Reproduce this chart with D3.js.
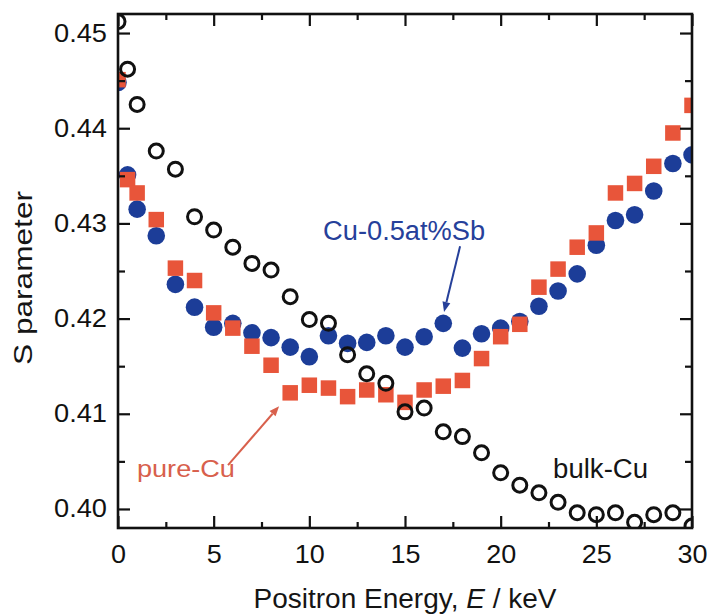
<!DOCTYPE html>
<html>
<head>
<meta charset="utf-8">
<script src="https://cdn.jsdelivr.net/npm/d3@7"></script>
<style>
  html, body { margin: 0; padding: 0; background: #fff; }
  svg { display: block; }
  text { font-family: "Liberation Sans", Arial, Helvetica, sans-serif; }
</style>
</head>
<body>
<svg id="chart" width="707" height="614"></svg>
<script>
// Positron energy (keV) at which each S parameter was measured
const energy = [0, 0.5, 1, 2, 3, 4, 5, 6, 7, 8, 9, 10, 11, 12, 13, 14, 15,
                16, 17, 18, 19, 20, 21, 22, 23, 24, 25, 26, 27, 28, 29, 30];

// S parameter, bulk copper reference (open circles)
const bulkCu = [0.4512, 0.4462, 0.4425, 0.4376, 0.4357, 0.4307, 0.4293, 0.4275,
                0.4258, 0.4251, 0.4223, 0.4199, 0.4195, 0.4162, 0.4142, 0.4132,
                0.4102, 0.4106, 0.4081, 0.4076, 0.4059, 0.4038, 0.4025, 0.4017,
                0.4007, 0.3996, 0.3994, 0.3996, 0.3986, 0.3994, 0.3996, 0.3982];

// S parameter, pure-Cu film (red squares)
const pureCu = [0.4451, 0.4346, 0.4332, 0.4304, 0.4253, 0.4240, 0.4206, 0.4190,
                0.4171, 0.4151, 0.4122, 0.4130, 0.4127, 0.4118, 0.4125, 0.4120,
                0.4112, 0.4125, 0.4129, 0.4135, 0.4158, 0.4181, 0.4194, 0.4233,
                0.4252, 0.4275, 0.4290, 0.4332, 0.4342, 0.4360, 0.4395, 0.4424];

// S parameter, Cu-0.5at%Sb film (blue circles)
const cuSb = [0.4448, 0.4351, 0.4315, 0.4287, 0.4236, 0.4212, 0.4191, 0.4195,
              0.4185, 0.4180, 0.4170, 0.4160, 0.4182, 0.4174, 0.4175, 0.4182,
              0.4170, 0.4181, 0.4195, 0.4169, 0.4184, 0.4190, 0.4197, 0.4213,
              0.4229, 0.4247, 0.4277, 0.4303, 0.4309, 0.4334, 0.4363, 0.4372];

// Axis ticks
const xMajor = [0, 5, 10, 15, 20, 25, 30];
const xMinor = [2.5, 7.5, 12.5, 17.5, 22.5, 27.5];
const yMajor = [0.40, 0.41, 0.42, 0.43, 0.44, 0.45];
const yMinor = [0.405, 0.415, 0.425, 0.435, 0.445];

// Series labels with their arrows, in data units: [E, S]
const labels = [
  { text: "Cu-0.5at%Sb", pos: [10.72, 0.4283], width: 162, size: 27, color: "#26409a",
    arrow: [[17.88, 0.4276], [17.04, 0.4207]] },
  { text: "pure-Cu", pos: [0.99, 0.4034], width: 98, size: 24, color: "#d8604c",
    arrow: [[5.75, 0.4046], [8.42, 0.4108]] },
  { text: "bulk-Cu", pos: [22.74, 0.4033], width: 95, size: 27, color: "#151515",
    arrow: null }
];

const blue = "#1c3d98";
const red = "#e8553a";

const svg = d3.select("#chart");
const box = { left: 118, right: 692, top: 14, bottom: 528 };

const x = d3.scaleLinear().domain([0, 30]).range([box.left, box.right]);
const y = d3.scaleLinear().domain([0.398, 0.452]).range([box.bottom, box.top]);

svg.append("defs").append("clipPath").attr("id", "plot")
  .append("rect").attr("x", box.left).attr("y", box.top)
  .attr("width", box.right - box.left).attr("height", box.bottom - box.top);

const marks = svg.append("g").attr("clip-path", "url(#plot)");

// Cu-0.5at%Sb
marks.append("g").selectAll("circle").data(energy).join("circle")
  .attr("cx", d => x(d)).attr("cy", (d, i) => y(cuSb[i]))
  .attr("r", 8.8).attr("fill", blue);

// pure-Cu
const sq = 15.5;
marks.append("g").selectAll("rect").data(energy).join("rect")
  .attr("x", d => x(d) - sq / 2).attr("y", (d, i) => y(pureCu[i]) - sq / 2)
  .attr("width", sq).attr("height", sq).attr("fill", red);

// bulk-Cu
marks.append("g").selectAll("circle").data(energy).join("circle")
  .attr("cx", d => x(d)).attr("cy", (d, i) => y(bulkCu[i]))
  .attr("r", 7).attr("fill", "none").attr("stroke", "#111").attr("stroke-width", 3);

// Axes: ticks point inward on all four sides
const axisColor = "#111";
function styleAxis(g) {
  g.select(".domain").remove();
  g.selectAll("line").attr("stroke", axisColor).attr("stroke-width", 2.2);
}
function stretchText(g, widthFor) {
  g.selectAll("text").each(function (d) {
    d3.select(this).attr("textLength", widthFor(d)).attr("lengthAdjust", "spacingAndGlyphs");
  });
}

const fmtY = d3.format(".2f");

const xBottom = svg.append("g").attr("transform", `translate(0,${box.bottom})`)
  .call(d3.axisBottom(x).tickValues(xMajor).tickSizeInner(-12).tickSizeOuter(0)
        .tickFormat(d3.format("d")));
styleAxis(xBottom);
xBottom.selectAll("text").attr("font-size", 25).attr("fill", "#111")
  .attr("y", 17).attr("dy", "0.71em");
stretchText(xBottom, d => (d >= 10 ? 30 : 15));

svg.append("g").attr("transform", `translate(0,${box.bottom})`)
  .call(d3.axisBottom(x).tickValues(xMinor).tickSizeInner(-6).tickSizeOuter(0).tickFormat(""))
  .call(styleAxis);

svg.append("g").attr("transform", `translate(0,${box.top})`)
  .call(d3.axisTop(x).tickValues(xMajor).tickSizeInner(-12).tickSizeOuter(0).tickFormat(""))
  .call(styleAxis);
svg.append("g").attr("transform", `translate(0,${box.top})`)
  .call(d3.axisTop(x).tickValues(xMinor).tickSizeInner(-6).tickSizeOuter(0).tickFormat(""))
  .call(styleAxis);

const yLeft = svg.append("g").attr("transform", `translate(${box.left},0)`)
  .call(d3.axisLeft(y).tickValues(yMajor).tickSizeInner(-12).tickSizeOuter(0)
        .tickFormat(fmtY));
styleAxis(yLeft);
yLeft.selectAll("text").attr("font-size", 25).attr("fill", "#111").attr("x", -11);
stretchText(yLeft, () => 53);

svg.append("g").attr("transform", `translate(${box.left},0)`)
  .call(d3.axisLeft(y).tickValues(yMinor).tickSizeInner(-7).tickSizeOuter(0).tickFormat(""))
  .call(styleAxis);

svg.append("g").attr("transform", `translate(${box.right},0)`)
  .call(d3.axisRight(y).tickValues(yMajor).tickSizeInner(-12).tickSizeOuter(0).tickFormat(""))
  .call(styleAxis);
svg.append("g").attr("transform", `translate(${box.right},0)`)
  .call(d3.axisRight(y).tickValues(yMinor).tickSizeInner(-7).tickSizeOuter(0).tickFormat(""))
  .call(styleAxis);

// Frame
svg.append("rect").attr("x", box.left).attr("y", box.top)
  .attr("width", box.right - box.left).attr("height", box.bottom - box.top)
  .attr("fill", "none").attr("stroke", axisColor).attr("stroke-width", 2.6);

// Axis titles
const xTitle = svg.append("text")
  .attr("x", (box.left + box.right) / 2).attr("y", 608)
  .attr("text-anchor", "middle").attr("font-size", 27).attr("fill", "#151515")
  .attr("textLength", 303).attr("lengthAdjust", "spacingAndGlyphs");
xTitle.append("tspan").text("Positron Energy, ");
xTitle.append("tspan").attr("font-style", "italic").text("E");
xTitle.append("tspan").text(" / keV");

svg.append("text")
  .attr("transform", `translate(32,${(190 + 366) / 2}) rotate(-90)`)
  .attr("text-anchor", "middle").attr("font-size", 25).attr("fill", "#151515")
  .attr("textLength", 174).attr("lengthAdjust", "spacingAndGlyphs")
  .text("S parameter");

// Series labels and pointer arrows
labels.forEach(l => {
  svg.append("text")
    .attr("x", x(l.pos[0])).attr("y", y(l.pos[1]))
    .attr("font-size", l.size).attr("fill", l.color)
    .attr("textLength", l.width).attr("lengthAdjust", "spacingAndGlyphs")
    .text(l.text);
  if (l.arrow) {
    const [p0, p1] = l.arrow.map(p => [x(p[0]), y(p[1])]);
    const ang = Math.atan2(p1[1] - p0[1], p1[0] - p0[0]);
    const len = 10, half = 4;
    const bx = p1[0] - len * Math.cos(ang), by = p1[1] - len * Math.sin(ang);
    svg.append("line")
      .attr("x1", p0[0]).attr("y1", p0[1]).attr("x2", bx).attr("y2", by)
      .attr("stroke", l.color).attr("stroke-width", 2);
    const nx = -Math.sin(ang), ny = Math.cos(ang);
    svg.append("path")
      .attr("d", `M${p1[0]},${p1[1]}L${bx + half * nx},${by + half * ny}L${bx - half * nx},${by - half * ny}Z`)
      .attr("fill", l.color);
  }
});
</script>
</body>
</html>
